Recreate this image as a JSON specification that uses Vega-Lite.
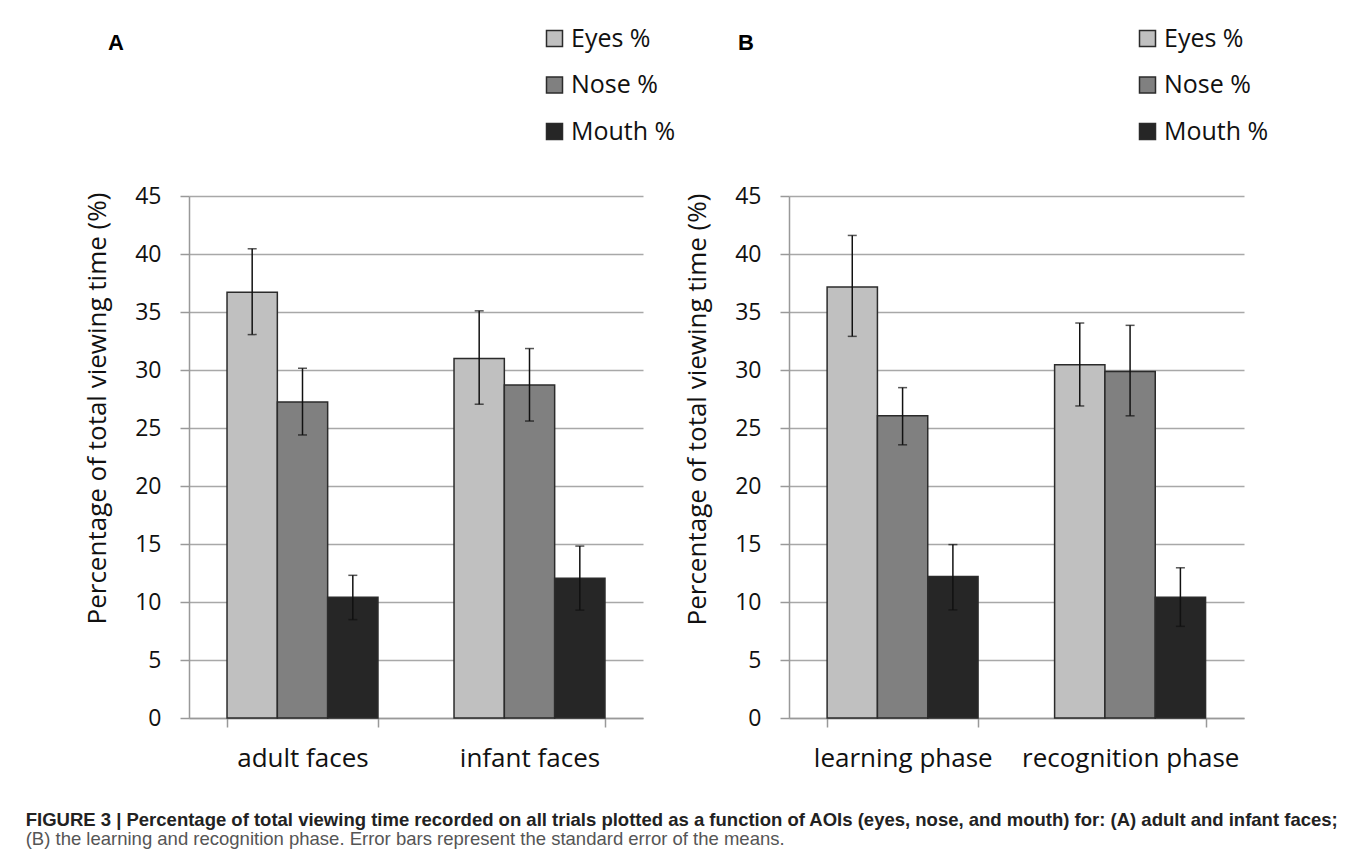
{
  "$schema": "https://vega.github.io/schema/vega-lite/v6.json",
  "background": "white",
  "padding": {"left": 25, "top": 26, "right": 4, "bottom": 4},
  "config": {
    "font": "Open Sans",
    "view": {"stroke": null}
  },
  "datasets": {
    "a": [
      {"cond": "adult faces", "aoi": "Eyes %", "mean": 36.7, "lo": 33.05, "hi": 40.45},
      {"cond": "adult faces", "aoi": "Nose %", "mean": 27.25, "lo": 24.4, "hi": 30.15},
      {"cond": "adult faces", "aoi": "Mouth %", "mean": 10.4, "lo": 8.48, "hi": 12.3},
      {"cond": "infant faces", "aoi": "Eyes %", "mean": 31.0, "lo": 27.05, "hi": 35.1},
      {"cond": "infant faces", "aoi": "Nose %", "mean": 28.7, "lo": 25.6, "hi": 31.85},
      {"cond": "infant faces", "aoi": "Mouth %", "mean": 12.05, "lo": 9.3, "hi": 14.82}
    ],
    "b": [
      {"cond": "learning phase", "aoi": "Eyes %", "mean": 37.15, "lo": 32.9, "hi": 41.6},
      {"cond": "learning phase", "aoi": "Nose %", "mean": 26.05, "lo": 23.55, "hi": 28.48},
      {"cond": "learning phase", "aoi": "Mouth %", "mean": 12.2, "lo": 9.32, "hi": 14.95},
      {"cond": "recognition phase", "aoi": "Eyes %", "mean": 30.45, "lo": 26.9, "hi": 34.05},
      {"cond": "recognition phase", "aoi": "Nose %", "mean": 29.87, "lo": 26.05, "hi": 33.85},
      {"cond": "recognition phase", "aoi": "Mouth %", "mean": 10.4, "lo": 7.9, "hi": 12.95}
    ]
  },
  "title": {
    "text": "FIGURE 3 | Percentage of total viewing time recorded on all trials plotted as a function of AOIs (eyes, nose, and mouth) for: (A) adult and infant faces;",
    "subtitle": "(B) the learning and recognition phase. Error bars represent the standard error of the means.",
    "orient": "bottom",
    "anchor": "start",
    "frame": "bounds",
    "dx": -59,
    "offset": 40,
    "font": "Liberation Sans",
    "fontSize": 18.5,
    "fontWeight": "bold",
    "color": "#222222",
    "subtitleFont": "Liberation Sans",
    "subtitleFontSize": 18.5,
    "subtitleColor": "#555555",
    "subtitlePadding": 0.5
  },
  "spacing": 8,
  "resolve": {
    "scale": {"x": "independent", "y": "independent"},
    "legend": {"color": "independent"}
  },
  "hconcat": [
    {
      "width": 454,
      "height": 522,
      "data": {"name": "a"},
      "title": {"text": "A", "anchor": "start", "frame": "group", "dx": -81, "offset": -29, "font": "Liberation Sans", "fontSize": 22, "fontWeight": "bold", "color": "#000000"},
      "encoding": {
        "x": {
          "field": "cond", "type": "nominal", "sort": ["adult faces", "infant faces"],
          "scale": {"paddingInner": 0.335, "paddingOuter": 0.1675},
          "axis": {"title": null, "labelAngle": 0, "labelLimit": 400, "tickBand": "extent", "tickSize": 9, "tickColor": "#999999", "tickWidth": 1.5, "domainColor": "#999999", "domainWidth": 1.5, "labelFontSize": 26, "labelPadding": 18, "labelColor": "#111111"}
        },
        "xOffset": {"field": "aoi", "type": "nominal", "sort": ["Eyes %", "Nose %", "Mouth %"], "scale": {"paddingInner": 0, "paddingOuter": 0}}
      },
      "layer": [
        {
          "mark": {"type": "bar", "stroke": "#2b2b2b", "strokeWidth": 1.5},
          "encoding": {
            "y": {"field": "mean", "type": "quantitative", "title": "Percentage of total viewing time (%)",
              "scale": {"domain": [0, 45]},
              "axis": {"values": [0, 5, 10, 15, 20, 25, 30, 35, 40, 45], "grid": true, "gridColor": "#a8a8a8", "gridWidth": 1.5, "tickSize": 9, "tickColor": "#999999", "tickWidth": 1.5, "domainColor": "#999999", "domainWidth": 1.5, "labelFontSize": 23, "labelPadding": 19, "labelColor": "#111111", "titleFontSize": 26, "titleFontWeight": "normal", "titleColor": "#111111", "titlePadding": 24, "titleY": 212}},
            "color": {"field": "aoi", "type": "nominal",
              "scale": {"domain": ["Eyes %", "Nose %", "Mouth %"], "range": ["#c0c0c0", "#808080", "#262626"]},
              "legend": {"orient": "none", "legendX": 353, "legendY": -170, "title": null, "labelFontSize": 25, "labelColor": "#111111", "symbolType": "square", "symbolSize": 256, "symbolStrokeWidth": 1.5, "symbolStrokeColor": "#2b2b2b", "rowPadding": 20.5, "labelOffset": 4, "padding": 0}}
          }
        },
        {
          "mark": {"type": "rule", "color": "#111111", "strokeWidth": 1.5},
          "encoding": {
            "y": {"field": "lo", "type": "quantitative", "title": "Percentage of total viewing time (%)"},
            "y2": {"field": "hi"}
          }
        },
        {
          "mark": {"type": "tick", "color": "#111111", "size": 9, "thickness": 1.5},
          "encoding": {"y": {"field": "lo", "type": "quantitative", "title": "Percentage of total viewing time (%)"}}
        },
        {
          "mark": {"type": "tick", "color": "#111111", "size": 9, "thickness": 1.5},
          "encoding": {"y": {"field": "hi", "type": "quantitative", "title": "Percentage of total viewing time (%)"}}
        }
      ]
    },
    {
      "width": 455,
      "height": 522,
      "data": {"name": "b"},
      "title": {"text": "B", "anchor": "start", "frame": "group", "dx": -51, "offset": -29, "font": "Liberation Sans", "fontSize": 22, "fontWeight": "bold", "color": "#000000"},
      "encoding": {
        "x": {
          "field": "cond", "type": "nominal", "sort": ["learning phase", "recognition phase"],
          "scale": {"paddingInner": 0.335, "paddingOuter": 0.1675},
          "axis": {"title": null, "labelAngle": 0, "labelLimit": 400, "tickBand": "extent", "tickSize": 9, "tickColor": "#999999", "tickWidth": 1.5, "domainColor": "#999999", "domainWidth": 1.5, "labelFontSize": 26, "labelPadding": 18, "labelColor": "#111111"}
        },
        "xOffset": {"field": "aoi", "type": "nominal", "sort": ["Eyes %", "Nose %", "Mouth %"], "scale": {"paddingInner": 0, "paddingOuter": 0}}
      },
      "layer": [
        {
          "mark": {"type": "bar", "stroke": "#2b2b2b", "strokeWidth": 1.5},
          "encoding": {
            "y": {"field": "mean", "type": "quantitative", "title": "Percentage of total viewing time (%)",
              "scale": {"domain": [0, 45]},
              "axis": {"values": [0, 5, 10, 15, 20, 25, 30, 35, 40, 45], "grid": true, "gridColor": "#a8a8a8", "gridWidth": 1.5, "tickSize": 9, "tickColor": "#999999", "tickWidth": 1.5, "domainColor": "#999999", "domainWidth": 1.5, "labelFontSize": 23, "labelPadding": 19, "labelColor": "#111111", "titleFontSize": 26, "titleFontWeight": "normal", "titleColor": "#111111", "titlePadding": 24, "titleY": 213}},
            "color": {"field": "aoi", "type": "nominal",
              "scale": {"domain": ["Eyes %", "Nose %", "Mouth %"], "range": ["#c0c0c0", "#808080", "#262626"]},
              "legend": {"orient": "none", "legendX": 346, "legendY": -170, "title": null, "labelFontSize": 25, "labelColor": "#111111", "symbolType": "square", "symbolSize": 256, "symbolStrokeWidth": 1.5, "symbolStrokeColor": "#2b2b2b", "rowPadding": 20.5, "labelOffset": 4, "padding": 0}}
          }
        },
        {
          "mark": {"type": "rule", "color": "#111111", "strokeWidth": 1.5},
          "encoding": {
            "y": {"field": "lo", "type": "quantitative", "title": "Percentage of total viewing time (%)"},
            "y2": {"field": "hi"}
          }
        },
        {
          "mark": {"type": "tick", "color": "#111111", "size": 9, "thickness": 1.5},
          "encoding": {"y": {"field": "lo", "type": "quantitative", "title": "Percentage of total viewing time (%)"}}
        },
        {
          "mark": {"type": "tick", "color": "#111111", "size": 9, "thickness": 1.5},
          "encoding": {"y": {"field": "hi", "type": "quantitative", "title": "Percentage of total viewing time (%)"}}
        }
      ]
    }
  ]
}
